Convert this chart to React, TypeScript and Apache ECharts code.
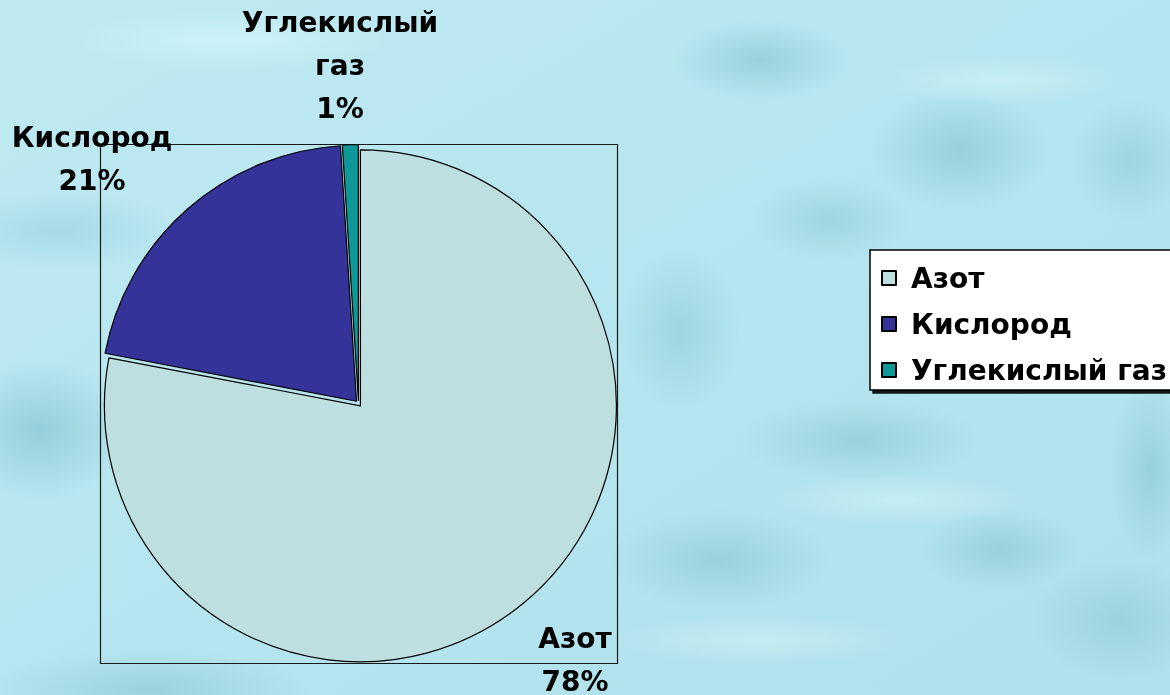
import React, { useEffect, useRef } from "react";
import * as echarts from "echarts";

const categories = ["Азот", "Кислород", "Углекислый газ"];
const values = [78, 21, 1];
const sliceColors = ["#BEDFE0", "#333399", "#0E9898"];

const FONT = '"DejaVu Sans", Verdana, sans-serif';
const CENTER: [number, number] = [358.5, 403.5];
const RADIUS = 256;

// label centres for each slice's data label
const LABEL_POS: [number, number][] = [
  [575, 660],
  [92, 159],
  [340, 65],
];

const blob = (cx: number, cy: number, rx: number, ry: number, color: string, a: number) => ({
  type: "ellipse",
  shape: { cx, cy, rx, ry },
  silent: true,
  z: 0,
  style: {
    fill: {
      type: "radial",
      x: 0.5,
      y: 0.5,
      r: 0.5,
      colorStops: [
        { offset: 0, color: `rgba(${color},${a})` },
        { offset: 1, color: `rgba(${color},0)` },
      ],
    },
  },
});

export default function App() {
  const ref = useRef<HTMLDivElement>(null);
  useEffect(() => {
    if (!ref.current) return;
    const chart = echarts.init(ref.current, null, { renderer: "svg" });
    const dark = "105,175,192";
    const light = "215,248,252";
    const total = values.reduce((a, b) => a + b, 0);
    const labelTexts = categories.map(
      (name, i) => `${name.replace(" ", "\n")}\n${Math.round((values[i] / total) * 100)}%`
    );
    const option = {
      animation: false,
      graphic: [
        {
          type: "rect",
          silent: true,
          z: 0,
          shape: { x: 0, y: 0, width: 1170, height: 695 },
          style: {
            fill: {
              type: "linear",
              x: 0,
              y: 0,
              x2: 1,
              y2: 1,
              colorStops: [
                { offset: 0, color: "#BFEAF2" },
                { offset: 0.5, color: "#B5E5EE" },
                { offset: 1, color: "#B0E0EA" },
              ],
            },
          },
        },
        blob(40, 430, 90, 70, dark, 0.45),
        blob(150, 690, 160, 40, dark, 0.35),
        blob(60, 230, 120, 40, dark, 0.25),
        blob(760, 60, 90, 40, dark, 0.4),
        blob(960, 150, 90, 60, dark, 0.4),
        blob(830, 220, 80, 40, dark, 0.3),
        blob(1130, 160, 60, 60, dark, 0.3),
        blob(860, 440, 120, 40, dark, 0.35),
        blob(720, 560, 110, 50, dark, 0.35),
        blob(1000, 550, 80, 40, dark, 0.35),
        blob(1120, 620, 90, 60, dark, 0.3),
        blob(1150, 470, 40, 90, dark, 0.35),
        blob(680, 330, 60, 80, dark, 0.3),
        blob(230, 40, 160, 30, light, 0.6),
        blob(1000, 80, 120, 25, light, 0.5),
        blob(900, 500, 130, 25, light, 0.5),
        blob(760, 640, 150, 25, light, 0.45),
        {
          type: "rect",
          silent: true,
          z: 1,
          shape: { x: 100.5, y: 144.5, width: 517, height: 519 },
          style: { fill: "transparent", stroke: "#1a1a1a", lineWidth: 1.2 },
        },
        ...labelTexts.map((text, i) => ({
          type: "text",
          silent: true,
          z: 10,
          x: LABEL_POS[i][0],
          y: LABEL_POS[i][1],
          style: {
            text,
            fontFamily: FONT,
            fontWeight: "bold",
            fontSize: 28,
            lineHeight: 43,
            fill: "#000",
            align: "center",
            verticalAlign: "middle",
          },
        })),
      ],
      legend: {
        orient: "vertical",
        left: 870,
        top: 250,
        icon: "rect",
        itemWidth: 14,
        itemHeight: 14,
        itemGap: 18,
        padding: [14, 12, 6, 11],
        backgroundColor: "#ffffff",
        borderColor: "#000000",
        borderWidth: 1.5,
        shadowColor: "rgba(0,0,0,0.9)",
        shadowOffsetX: 3,
        shadowOffsetY: 3,
        shadowBlur: 0.01,
        selectedMode: false,
        textStyle: {
          fontFamily: FONT,
          fontWeight: "bold",
          fontSize: 28,
          color: "#000",
          padding: [0, 0, 0, 10],
        },
        data: categories,
      },
      series: [
        {
          type: "pie",
          center: CENTER,
          radius: RADIUS,
          startAngle: 90,
          clockwise: true,
          selectedMode: "multiple",
          selectedOffset: 3,
          itemStyle: { borderColor: "#000", borderWidth: 1.2 },
          emphasis: { disabled: true },
          labelLine: { show: false },
          label: { show: false },
          data: categories.map((name, i) => ({
            name,
            value: values[i],
            selected: true,
            itemStyle: { color: sliceColors[i] },
          })),
        },
      ],
    };
    chart.setOption(option as any);
    return () => chart.dispose();
  }, []);
  return (
    <div
      ref={ref}
      style={{ position: "fixed", left: 0, top: 0, width: 1170, height: 695 }}
    />
  );
}
